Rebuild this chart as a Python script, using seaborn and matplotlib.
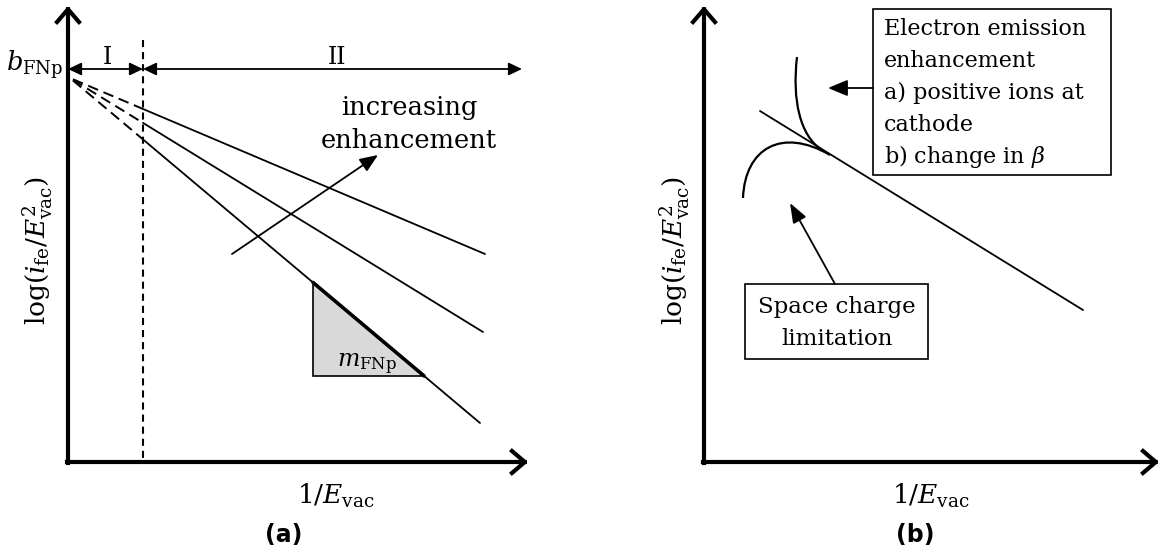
import numpy as np
import pandas as pd
import matplotlib
matplotlib.use("Agg")
import matplotlib.pyplot as plt
import seaborn as sns
from matplotlib.patches import Polygon, Rectangle, PathPatch
from matplotlib.path import Path

# ---- schematic data (canvas units, y grows downward) ----
# panel (a): Fowler-Nordheim lines fanning out from the common intercept
intercept = (70, 78)
region_split_x = 143
fn_end_x = [485, 483, 480]
fn_end_y = [254, 332, 423]
line_names = ["low", "mid", "high"]
slope_tri_x = 313
slope_tri_bottom = 376

# panel (b): ideal FN line and deviating branches
ideal_line_x = [760, 1083]
ideal_line_y = [111, 310]
enh_curve_x = [797, 792, 800, 822]
enh_curve_y = [57, 100, 136, 150]
sc_curve_x = [743, 745, 782, 830]
sc_curve_y = [198, 148, 127, 155]

enh_lines = ["Electron emission", "enhancement", "a) positive ions at",
             "cathode", r"b) change in $\beta$"]
sc_lines = ["Space charge", "limitation"]

ylab = r"log($i_{\rm fe}$/$E^{2}_{\rm vac}$)"
xlab = r"1/$E_{\rm vac}$"

sns.set_theme(style="white")
plt.rcParams['font.family'] = ['DejaVu Serif']
plt.rcParams['mathtext.fontset'] = 'dejavuserif'
plt.rcParams['text.color'] = 'black'

W, H = 1162, 554
fig = plt.figure(figsize=(W / 100, H / 100), dpi=100)
ax = fig.add_axes([0, 0, 1, 1])

K = 'black'


def axis_arrow(x0, y0, x1, y1):
    ax.annotate('', xy=(x1, y1), xytext=(x0, y0),
                arrowprops=dict(arrowstyle='->,head_length=0.42,head_width=0.36',
                                lw=3, color=K, shrinkA=0, shrinkB=0,
                                mutation_scale=22, capstyle='projecting'))


def thin_arrow(x0, y0, x1, y1, style='-|>', hl=1.1, hw=0.45, ms=10):
    ax.annotate('', xy=(x1, y1), xytext=(x0, y0),
                arrowprops=dict(arrowstyle=f'{style},head_length={hl},head_width={hw}',
                                lw=1.3, color=K, shrinkA=0, shrinkB=0,
                                mutation_scale=ms))


# ---------------- panel (a) ----------------
# solid FN lines (region II) and dashed extrapolation back to the intercept
rows = []
for name, ex, ey in zip(line_names, fn_end_x, fn_end_y):
    ys = np.interp(region_split_x, [intercept[0], ex], [intercept[1], ey])
    rows.append(dict(line=name, x=region_split_x, y=ys))
    rows.append(dict(line=name, x=ex, y=ey))
    ax.plot([intercept[0] + 3, region_split_x],
            [intercept[1] + (ey - intercept[1]) / (ex - intercept[0]) * 3, ys],
            color=K, lw=1.4, ls=(0, (5.5, 3)))
df = pd.DataFrame(rows)
sns.lineplot(data=df, x='x', y='y', units='line', estimator=None,
             color=K, lw=1.3, ax=ax, legend=False)

ax.set_xlim(0, W)
ax.set_ylim(H, 0)
ax.axis('off')

axis_arrow(68, 463, 68, 6)
axis_arrow(67, 462, 528, 462)
ax.plot([region_split_x, region_split_x], [40, 462], color=K, lw=1.5,
        ls=(0, (3.4, 2.4)))

thin_arrow(region_split_x, 69, 68, 69, style='<|-|>', hl=0.8, hw=0.38)
thin_arrow(region_split_x, 69, 522, 69, style='<|-|>', hl=0.8, hw=0.38)
ax.text(107, 58, "I", ha='center', va='center', fontsize=17)
ax.text(337, 58, "II", ha='center', va='center', fontsize=17)
ax.text(63, 65, r"$b_{\rm FNp}$", ha='right', va='center', fontsize=18.5)

# slope triangle on the steepest line
ex, ey = fn_end_x[2], fn_end_y[2]
top_y = np.interp(slope_tri_x, [intercept[0], ex], [intercept[1], ey])
right_x = np.interp(slope_tri_bottom, [intercept[1], ey], [intercept[0], ex])
tri = Polygon([[slope_tri_x, top_y], [slope_tri_x, slope_tri_bottom],
               [right_x, slope_tri_bottom]], closed=True,
              facecolor='#d9d9d9', edgecolor=K, lw=1.2, zorder=1)
ax.add_patch(tri)
ax.plot([slope_tri_x, right_x], [top_y, slope_tri_bottom], color=K, lw=2.6)
ax.text(367, 364, r"$m_{\rm FNp}$", ha='center', va='center', fontsize=17)

thin_arrow(232, 254, 378, 155)
ax.text(409, 107, "increasing", ha='center', va='center', fontsize=18.5)
ax.text(409, 141, "enhancement", ha='center', va='center', fontsize=18.5)

ax.text(38, 250, ylab, rotation=90, ha='center', va='center', fontsize=19)
ax.text(336, 496, xlab, ha='center', va='center', fontsize=19)
ax.text(284, 535, "(a)", ha='center', va='center', fontsize=17,
        fontweight='bold', family='DejaVu Sans')

# ---------------- panel (b) ----------------
axis_arrow(704, 463, 704, 6)
axis_arrow(703, 462, 1159, 462)

ax.plot(ideal_line_x, ideal_line_y, color=K, lw=1.3)
codes = [Path.MOVETO, Path.CURVE4, Path.CURVE4, Path.CURVE4]
for cx, cy in [(enh_curve_x, enh_curve_y), (sc_curve_x, sc_curve_y)]:
    ax.add_patch(PathPatch(Path(np.column_stack([cx, cy]), codes),
                           facecolor='none', edgecolor=K, lw=1.6))

ax.add_patch(Rectangle((873, 9), 238, 166, facecolor='white',
                       edgecolor=K, lw=1.2))
for i, line in enumerate(enh_lines):
    ax.text(884, 29 + i * 32, line, ha='left', va='center', fontsize=16)
thin_arrow(873, 88, 828, 88, hl=1.2, hw=0.5)

ax.add_patch(Rectangle((745, 284), 183, 75, facecolor='white',
                       edgecolor=K, lw=1.2))
for i, line in enumerate(sc_lines):
    ax.text(837, 307 + i * 32, line, ha='center', va='center', fontsize=16.5)
thin_arrow(835, 284, 790, 203, hl=1.2, hw=0.45)

ax.text(675, 250, ylab, rotation=90, ha='center', va='center', fontsize=19)
ax.text(931, 496, xlab, ha='center', va='center', fontsize=19)
ax.text(915, 535, "(b)", ha='center', va='center', fontsize=17,
        fontweight='bold', family='DejaVu Sans')

fig.savefig("out.png", dpi=100)
